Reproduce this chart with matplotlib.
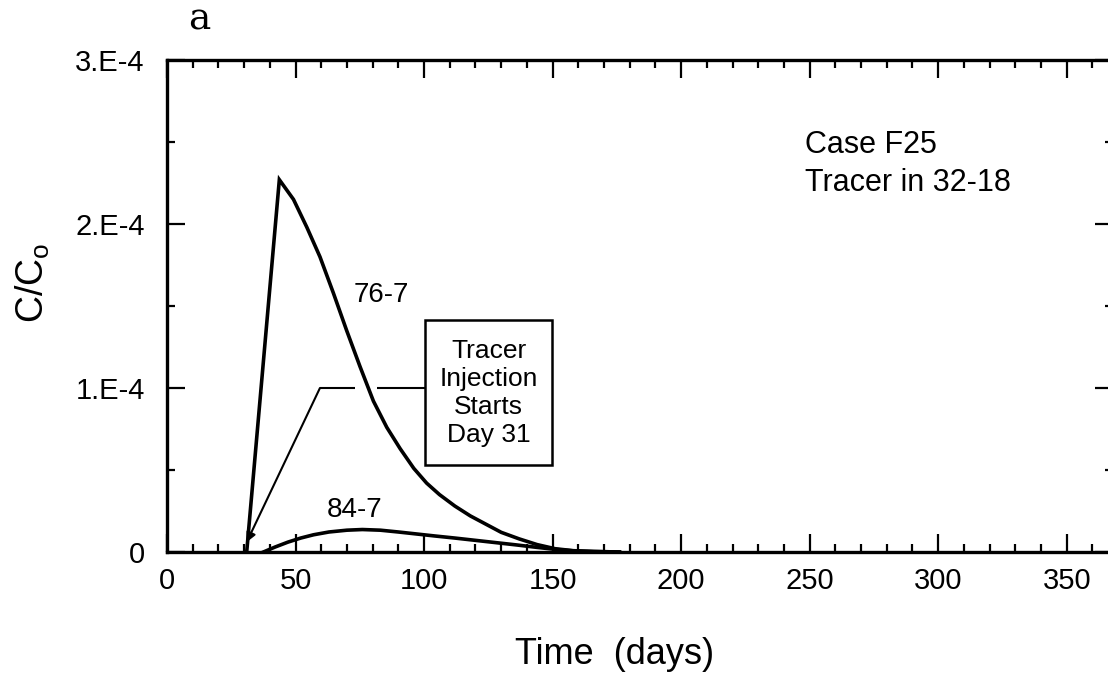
import matplotlib
matplotlib.use("Agg")
import matplotlib.pyplot as plt
from matplotlib.patches import Rectangle
from matplotlib.ticker import MultipleLocator, FixedLocator

plt.rcParams['font.family'] = ['Liberation Sans', 'DejaVu Sans']

# ---- data ----
days_76_7 = [31, 43.7, 49.2, 54.4, 59.5, 64.7, 69.9, 75.1, 80.3, 85.5, 90.7, 96, 101, 106,
             112, 118, 124, 130, 137, 144, 151, 158, 166, 176]
conc_76_7 = [0.0, 2.27e-4, 2.15e-4, 1.98e-4, 1.80e-4, 1.58e-4, 1.35e-4, 1.13e-4, 0.92e-4,
             0.76e-4, 0.63e-4, 0.51e-4, 0.42e-4, 0.35e-4, 0.28e-4, 0.22e-4, 0.17e-4, 0.12e-4,
             0.08e-4, 0.045e-4, 0.02e-4, 0.008e-4, 0.003e-4, 0.0]

days_84_7 = [37.5, 42, 47, 52, 57, 63, 70, 76, 83, 90, 97, 104, 112, 120, 128, 136, 144, 151,
             158, 166, 176]
conc_84_7 = [0.0, 0.03e-4, 0.06e-4, 0.085e-4, 0.105e-4, 0.122e-4, 0.133e-4, 0.137e-4,
             0.133e-4, 0.122e-4, 0.11e-4, 0.098e-4, 0.085e-4, 0.071e-4, 0.057e-4, 0.043e-4,
             0.028e-4, 0.016e-4, 0.007e-4, 0.003e-4, 0.0]

x_ticks = [0, 50, 100, 150, 200, 250, 300, 350]
x_tick_labels = ["0", "50", "100", "150", "200", "250", "300", "350"]
y_ticks = [0, 1e-4, 2e-4, 3e-4]
y_tick_labels = ["0", "1.E-4", "2.E-4", "3.E-4"]

injection_day = 31

# ---- figure ----
fig = plt.figure(figsize=(11.08, 6.89), dpi=100)
ax = fig.add_axes([167 / 1108, 137 / 689, 946 / 1108, 492 / 689])

lw_curve = 2.6
ax.plot(days_76_7, conc_76_7, color='black', lw=lw_curve, solid_joinstyle='miter')
ax.plot(days_84_7, conc_84_7, color='black', lw=lw_curve)

ax.set_xlim(0, 368)
ax.set_ylim(0, 3e-4)

ax.xaxis.set_major_locator(FixedLocator(x_ticks))
ax.set_xticklabels(x_tick_labels)
ax.xaxis.set_minor_locator(MultipleLocator(10))
ax.yaxis.set_major_locator(FixedLocator(y_ticks))
ax.set_yticklabels(y_tick_labels)
ax.yaxis.set_minor_locator(MultipleLocator(0.5e-4))

ax.tick_params(which='both', direction='in', top=True, right=True, width=1.6, colors='black')
ax.tick_params(which='major', length=13)
ax.tick_params(which='minor', length=6)
ax.tick_params(axis='x', which='major', labelsize=21, pad=11)
ax.tick_params(axis='y', which='major', labelsize=21, pad=16)

for s in ax.spines.values():
    s.set_linewidth(2.4)

ax.set_xlabel("Time  (days)", fontsize=26)
ax.xaxis.set_label_coords(0.4736, -0.172)
ax.set_ylabel(r"C/C$_\mathregular{o}$", fontsize=27)
ax.yaxis.set_label_coords(-0.1216, 0.547)

# curve labels
ax.text(83.3, 1.567e-4, "76-7", fontsize=20, ha='center', va='center')
ax.text(72.8, 0.256e-4, "84-7", fontsize=20, ha='center', va='center')

# case text
ax.text(248.2, 2.48e-4, "Case F25", fontsize=22, ha='left', va='center')
ax.text(248.2, 2.25e-4, "Tracer in 32-18", fontsize=22, ha='left', va='center')

# annotation box
ax.add_patch(Rectangle((100.4, 0.528e-4), 49.4, 0.889e-4, fill=False, lw=1.8,
                       edgecolor='black', zorder=3))
ax.text(125.1, 0.97e-4, "Tracer\nInjection\nStarts\nDay %d" % injection_day,
        fontsize=19, ha='center', va='center', linespacing=1.2)

# leader line with a break where it crosses the curve
ax.plot([100.4, 81.7], [1.0e-4, 1.0e-4], color='black', lw=1.5, solid_capstyle='butt')
ax.plot([73.2, 59.5], [1.0e-4, 1.0e-4], color='black', lw=1.5, solid_capstyle='butt')
ax.annotate("", xy=(injection_day, 0.06e-4), xytext=(59.5, 1.0e-4),
            arrowprops=dict(arrowstyle='-|>', lw=1.5, color='black',
                            mutation_scale=14, shrinkA=0, shrinkB=0))

# panel label
fig.text(199 / 1108, 1 - 20 / 689, "a", fontsize=27, family='DejaVu Serif',
         ha='center', va='center')

fig.savefig("out.png", dpi=100)
